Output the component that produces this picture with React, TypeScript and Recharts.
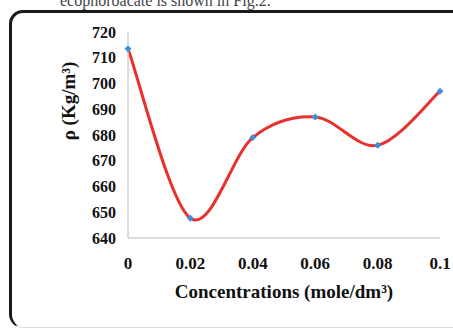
import React from "react";
import { LineChart, Line, XAxis, YAxis, Label } from "recharts";

// concentrations (mole/dm3) and density values
const concentrations = [0, 0.02, 0.04, 0.06, 0.08, 0.1];
const density = [713.5, 647.7, 679, 687, 676, 697];
const xTicks = [0, 0.02, 0.04, 0.06, 0.08, 0.1];
const yTicks = [640, 650, 660, 670, 680, 690, 700, 710, 720];

const data = concentrations.map((c, i) => ({ c, rho: density[i] }));

const FONT = "'Liberation Serif', 'Times New Roman', serif";

// spreadsheet-style smoothed line (Catmull-Rom bezier through each point)
function smoothCurve(context: any) {
  let pts: number[][] = [];
  return {
    areaStart() {},
    areaEnd() {},
    lineStart() {
      pts = [];
    },
    lineEnd() {
      if (!pts.length) return;
      context.moveTo(pts[0][0], pts[0][1]);
      for (let i = 0; i < pts.length - 1; i++) {
        const p0 = pts[i - 1] || pts[i];
        const p1 = pts[i];
        const p2 = pts[i + 1];
        const p3 = pts[i + 2] || pts[i + 1];
        context.bezierCurveTo(
          p1[0] + (p2[0] - p0[0]) / 6,
          p1[1] + (p2[1] - p0[1]) / 6,
          p2[0] - (p3[0] - p1[0]) / 6,
          p2[1] - (p3[1] - p1[1]) / 6,
          p2[0],
          p2[1]
        );
      }
    },
    point(x: number, y: number) {
      pts.push([+x, +y]);
    },
  };
}

function Diamond(props: any) {
  const { cx, cy } = props;
  if (cx == null || cy == null) return null;
  const r = 3.5;
  return (
    <path
      d={`M${cx},${cy - r}L${cx + r},${cy}L${cx},${cy + r}L${cx - r},${cy}Z`}
      fill="#3f8fd8"
    />
  );
}

export default function App() {
  return (
    <div
      style={{
        position: "fixed",
        left: 0,
        top: 0,
        width: 453,
        height: 330,
        overflow: "hidden",
        background: "#fff",
        fontFamily: FONT,
      }}
    >
      <div
        style={{
          position: "absolute",
          left: 60,
          top: -8,
          fontSize: 16,
          color: "#444",
          whiteSpace: "nowrap",
        }}
      >
        ecophoroacate is shown in Fig.2.
      </div>
      <div
        style={{
          position: "absolute",
          left: 9,
          top: 10,
          width: 456,
          height: 314,
          borderTop: "3px solid #1a1a1a",
          borderLeft: "3px solid #1a1a1a",
          borderBottom: "1px solid #ddd",
          borderRadius: 14,
        }}
      />
      <div style={{ position: "absolute", left: 0, top: 0 }}>
        <LineChart
          width={453}
          height={330}
          data={data}
          margin={{ top: 32, right: 13, bottom: 0, left: 0 }}
        >
          <XAxis
            dataKey="c"
            type="number"
            domain={[0, 0.1]}
            ticks={xTicks}
            height={92}
            axisLine={{ stroke: "#cfcfcf", strokeWidth: 1.5 }}
            tickLine={false}
            tickMargin={13}
            tick={{ fill: "#111", fontSize: 17, fontWeight: 700, fontFamily: FONT }}
          >
            <Label
              value="Concentrations (mole/dm³)"
              position="insideBottom"
              offset={32}
              style={{ fill: "#111", fontSize: 19, fontWeight: 700, fontFamily: FONT }}
            />
          </XAxis>
          <YAxis
            type="number"
            domain={[640, 720]}
            ticks={yTicks}
            width={128}
            axisLine={{ stroke: "#cfcfcf", strokeWidth: 1.5 }}
            tickLine={false}
            tickMargin={6}
            tick={{ fill: "#111", fontSize: 16, fontWeight: 700, fontFamily: FONT }}
          >
            <Label
              content={() => (
                <text
                  x={68}
                  y={101}
                  transform="rotate(-90, 68, 101)"
                  textAnchor="middle"
                  dominantBaseline="central"
                  style={{ fill: "#111", fontSize: 19, fontWeight: 700, fontFamily: FONT }}
                >
                  ρ (Kg/m³)
                </text>
              )}
            />
          </YAxis>
          <Line
            type={smoothCurve as any}
            dataKey="rho"
            stroke="#e8302c"
            strokeWidth={3}
            dot={<Diamond />}
            activeDot={false}
            isAnimationActive={false}
          />
        </LineChart>
      </div>
    </div>
  );
}
